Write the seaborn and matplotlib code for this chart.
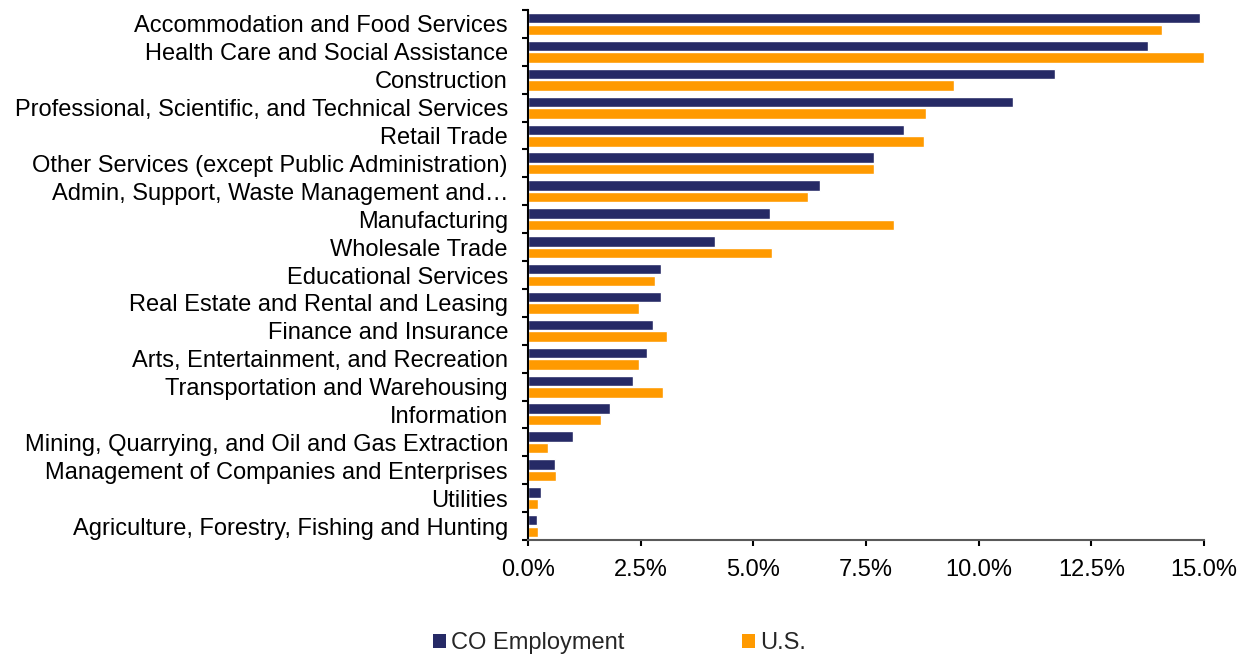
import matplotlib
matplotlib.use("Agg")
import matplotlib.pyplot as plt
import seaborn as sns
import pandas as pd
import numpy as np
from matplotlib.patches import Patch
from matplotlib.ticker import FixedLocator, FuncFormatter

categories = [
    "Accommodation and Food Services",
    "Health Care and Social Assistance",
    "Construction",
    "Professional, Scientific, and Technical Services",
    "Retail Trade",
    "Other Services (except Public Administration)",
    "Admin, Support, Waste Management and\u2026",
    "Manufacturing",
    "Wholesale Trade",
    "Educational Services",
    "Real Estate and Rental and Leasing",
    "Finance and Insurance",
    "Arts, Entertainment, and Recreation",
    "Transportation and Warehousing",
    "Information",
    "Mining, Quarrying, and Oil and Gas Extraction",
    "Management of Companies and Enterprises",
    "Utilities",
    "Agriculture, Forestry, Fishing and Hunting",
]
co_employment = [14.91, 13.75, 11.69, 10.76, 8.35, 7.68, 6.47, 5.36, 4.15, 2.95,
                 2.95, 2.77, 2.64, 2.33, 1.83, 0.99, 0.59, 0.28, 0.19]
us_values = [14.06, 15.0, 9.46, 8.84, 8.79, 7.68, 6.21, 8.13, 5.41, 2.82,
             2.46, 3.09, 2.46, 3.00, 1.61, 0.45, 0.63, 0.23, 0.23]
series_names = ["CO Employment", "U.S."]
colors = ["#262A66", "#FF9A00"]
x_ticks = [0, 2.5, 5, 7.5, 10, 12.5, 15]

df = pd.DataFrame({
    "Industry": categories * 2,
    "Share": co_employment + us_values,
    "Series": [series_names[0]] * len(categories) + [series_names[1]] * len(categories),
})

sns.set_theme(style="white")
plt.rcParams["font.family"] = ["Liberation Sans", "DejaVu Sans"]
FS = 17

fig = plt.figure(figsize=(12.51, 6.57), dpi=100)
ax = fig.add_axes([528 / 1251, 1 - 540 / 657, (1204 - 528) / 1251, (540 - 10) / 657])

sns.barplot(data=df, y="Industry", x="Share", hue="Series", order=categories,
            hue_order=series_names, palette=colors, orient="h", width=0.83,
            gap=0.1, saturation=1, legend=False, ax=ax)

ax.set_xlim(0, 15)
ax.set_ylim(len(categories) - 0.5, -0.5)
ax.set_xticks(x_ticks)
ax.xaxis.set_major_formatter(FuncFormatter(lambda v, p: f"{v:.1f}%"))
ax.set_xlabel("")
ax.set_ylabel("")

for s in ["top", "right"]:
    ax.spines[s].set_visible(False)
ax.spines["left"].set_color("black")
ax.spines["left"].set_linewidth(1.5)
ax.spines["bottom"].set_color("#595959")
ax.spines["bottom"].set_linewidth(1.5)

ax.tick_params(axis="y", which="major", length=0, pad=14.4, labelsize=FS, colors="black")
ax.yaxis.set_minor_locator(FixedLocator(np.arange(-0.5, len(categories), 1.0)))
ax.tick_params(axis="y", which="minor", length=4.3, width=1.5, color="black", left=True)
ax.tick_params(axis="x", which="major", length=4.3, width=1.5, color="black",
               bottom=True, pad=9.5, labelsize=FS, labelcolor="black")

handles = [Patch(facecolor=c, edgecolor="none") for c in colors]
fig.legend(handles, series_names, loc="center", bbox_to_anchor=(619.5 / 1251, 1 - 643 / 657),
           ncol=2, frameon=False, fontsize=FS, handlelength=0.55, handleheight=0.55,
           handletextpad=0.2, columnspacing=5.0, borderpad=0, borderaxespad=0)

fig.savefig("out.png", dpi=100)
